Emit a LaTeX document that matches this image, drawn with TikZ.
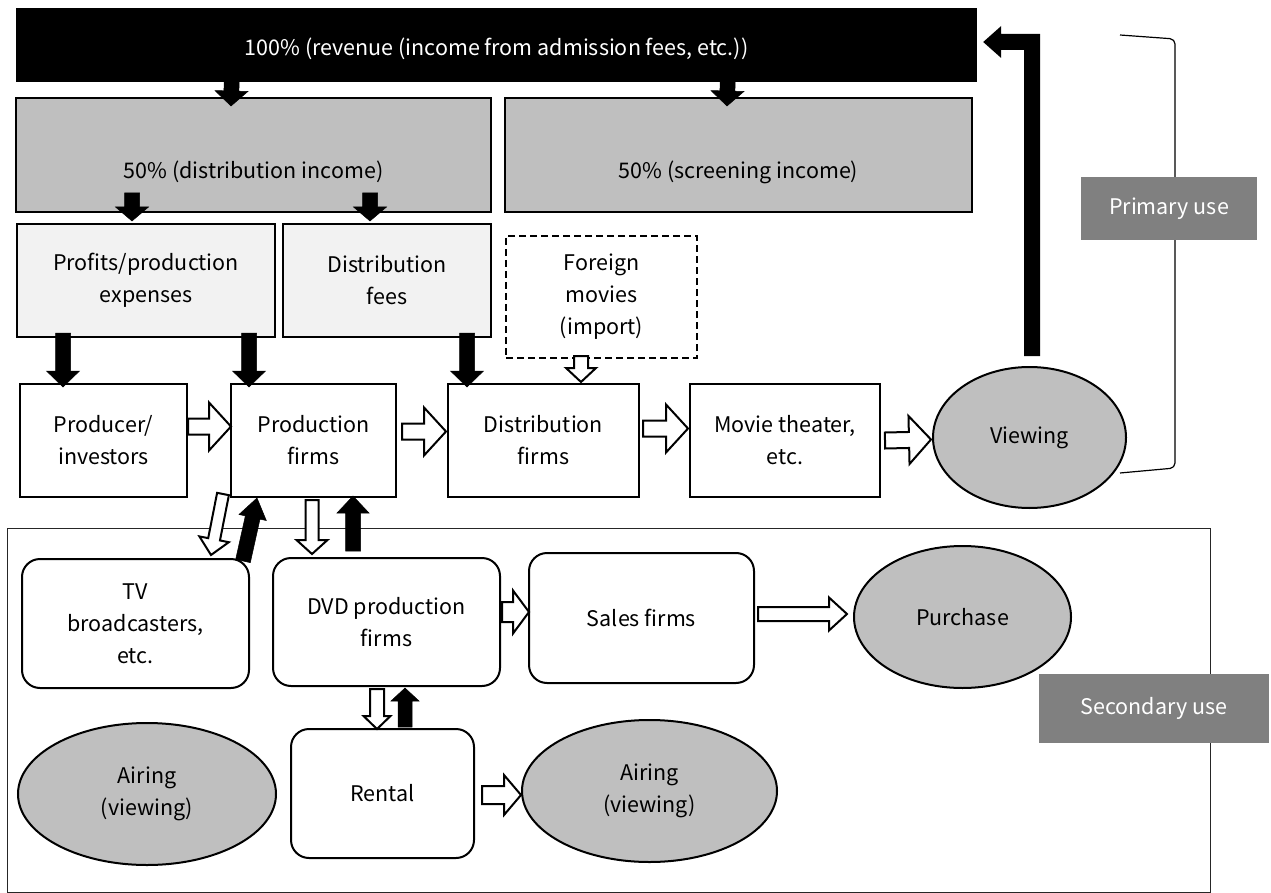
\documentclass[tikz,border=0pt]{standalone}
\usepackage{fontspec}
\setmainfont{Noto Sans CJK JP}
\usetikzlibrary{calc,shapes.geometric}

\definecolor{midgray}{HTML}{BFBFBF}
\definecolor{palegray}{HTML}{F2F2F2}
\definecolor{taggray}{HTML}{808080}

\newcommand\labelfont{\fontsize{21.5}{32}\selectfont}

% block arrow: style, start, tip, half stem width, half head width, head length
\newcommand\blockarrow[6]{%
  \coordinate (ba-s) at #2;
  \coordinate (ba-e) at #3;
  \coordinate (ba-h) at ($(ba-e)!#6!(ba-s)$);
  \filldraw[#1] ($(ba-s)!#4!90:(ba-e)$) -- ($(ba-h)!#4!90:(ba-e)$)
    -- ($(ba-h)!#5!90:(ba-e)$) -- (ba-e) -- ($(ba-h)!#5!-90:(ba-e)$)
    -- ($(ba-h)!#4!-90:(ba-e)$) -- ($(ba-s)!#4!-90:(ba-e)$) -- cycle;
}

\tikzset{
  base/.style={inner sep=0pt, align=center, font=\labelfont},
  box/.style={base, rectangle, draw=black, line width=2pt, fill=white},
  incomebox/.style={box, fill=midgray},
  sharebox/.style={box, fill=palegray},
  importbox/.style={box, dashed, dash pattern=on 7pt off 4pt},
  roundbox/.style={box, rounded corners=18pt},
  usebox/.style={base, ellipse, draw=black, line width=2pt, fill=midgray},
  tagbox/.style={base, rectangle, fill=taggray, text=white},
  solidarrow/.style={fill=black, draw=black, line width=0.5pt, line join=miter},
  hollowarrow/.style={fill=white, draw=black, line width=2pt, line join=miter},
}

\begin{document}
\begin{tikzpicture}[x=1pt, y=-1pt]
\useasboundingbox (0,0) rectangle (1271,893);

% secondary-use frame
\draw[line width=1pt, draw=black!85] (7,528) rectangle (1210,892);

% bracket marking the primary use
\coordinate (br-a) at (1120,35);
\coordinate (br-b) at (1175,39);
\coordinate (br-c) at (1175,468);
\coordinate (br-d) at (1120,473);
\draw[line width=1.2pt, rounded corners=5pt] (br-a) -- (br-b) -- (br-c) -- (br-d);

% revenue and its split
\node[base, rectangle, fill=black, text=white, minimum width=961pt, minimum height=74pt,
      text height=22pt, text depth=0pt] (rev) at (496.5,45)
      {100\% (revenue (income from admission fees, etc.))};
\node[incomebox, minimum width=475pt, minimum height=114pt, text height=48pt, text depth=0pt]
      (dinc) at (253.5,155) {50\% (distribution income)};
\node[incomebox, minimum width=467pt, minimum height=114pt, text height=48pt, text depth=0pt]
      (sinc) at (738.5,155) {50\% (screening income)};

\node[sharebox, minimum width=258pt, minimum height=113pt] (prof) at (146,280.5)
      {Profits/production\\expenses};
\node[sharebox, minimum width=208pt, minimum height=113pt] (dfee) at (387,280.5)
      {Distribution\\fees};
\node[importbox, minimum width=191pt, minimum height=122pt] (forn) at (601.5,297)
      {Foreign\\movies\\(import)};

% primary chain
\node[box, minimum width=167pt, minimum height=113pt] (prod) at (103.5,440.5)
      {Producer/\\investors};
\node[box, minimum width=165pt, minimum height=113pt] (pfirm) at (313.5,440.5)
      {Production\\firms};
\node[box, minimum width=191pt, minimum height=113pt] (dfirm) at (543.5,440.5)
      {Distribution\\firms};
\node[box, minimum width=190pt, minimum height=113pt] (theat) at (785,440.5)
      {Movie theater,\\etc.};
\node[usebox, minimum width=193pt, minimum height=141pt] (view) at (1029.5,437.5) {Viewing};

\node[tagbox, minimum width=176pt, minimum height=63pt] (primary) at (1169,208.5) {Primary use};

% secondary chain
\node[roundbox, minimum width=227pt, minimum height=129pt] (tv) at (135.5,623.5)
      {TV\\broadcasters,\\etc.};
\node[roundbox, minimum width=227pt, minimum height=128pt] (dvd) at (386.5,622)
      {DVD production\\firms};
\node[roundbox, minimum width=225pt, minimum height=130pt] (sales) at (641.5,618)
      {Sales firms};
\node[usebox, minimum width=217pt, minimum height=142pt] (purch) at (962.5,617) {Purchase};
\node[usebox, minimum width=258pt, minimum height=142pt] (air1) at (147,794)
      {Airing\\(viewing)};
\node[roundbox, minimum width=183pt, minimum height=129pt] (rent) at (382.5,793.5) {Rental};
\node[usebox, minimum width=255pt, minimum height=142pt] (air2) at (649.5,791)
      {Airing\\(viewing)};

\node[tagbox, minimum width=230pt, minimum height=69pt] (second) at (1154,708.5) {Secondary use};

% money flows down
\blockarrow{solidarrow}{($(rev.south west)+(216,-5)$)}{($(dinc.north west)+(216,9)$)}{7.5pt}{16.5pt}{15pt}
\blockarrow{solidarrow}{($(rev.south west)+(712,-5)$)}{($(sinc.north west)+(223,9)$)}{7.5pt}{16.5pt}{15pt}
\blockarrow{solidarrow}{($(dinc.south west)+(117,-20)$)}{($(prof.north west)+(116,-2)$)}{7.5pt}{16.5pt}{14pt}
\blockarrow{solidarrow}{($(dinc.south west)+(355,-20)$)}{($(dfee.north west)+(88,-2)$)}{7.5pt}{16.5pt}{14pt}
\blockarrow{solidarrow}{($(prof.south west)+(47,-5)$)}{($(prod.north west)+(44,4)$)}{7.5pt}{16.5pt}{16pt}
\blockarrow{solidarrow}{($(prof.south west)+(233,-5)$)}{($(pfirm.north west)+(19,4)$)}{7.5pt}{16.5pt}{16pt}
\blockarrow{solidarrow}{($(dfee.south west)+(185,-5)$)}{($(dfirm.north west)+(20,4)$)}{7.5pt}{16.5pt}{16pt}

% films move right
\blockarrow{hollowarrow}{($(forn.south west)+(76,-3)$)}{($(dfirm.north west)+(134,-1)$)}{7pt}{15pt}{14pt}
\blockarrow{hollowarrow}{($(prod.east)+(0,-14)$)}{($(pfirm.west)+(1,-14)$)}{8pt}{24pt}{22pt}
\blockarrow{hollowarrow}{($(pfirm.east)+(5,-9)$)}{($(dfirm.west)+(-1,-9)$)}{8pt}{24pt}{22pt}
\blockarrow{hollowarrow}{($(dfirm.east)+(3,-12)$)}{($(theat.west)+(-1,-12)$)}{8pt}{24pt}{22pt}
\blockarrow{hollowarrow}{($(theat.east)+(4,0)$)}{($(view.west)+(-1,2)$)}{8pt}{24pt}{22pt}

% admission revenue returns to the top
\fill[black] let \p1=($(view.north)+(2.5,-10)$), \p2=($(rev.east)+(6,-3)$) in
  (\x1+8pt,\y1) -- (\x1+8pt,\y2+8pt) -- (\x2+18pt,\y2+8pt) -- (\x2+18pt,\y2+16pt)
  -- (\x2,\y2) -- (\x2+18pt,\y2-16pt) -- (\x2+18pt,\y2-8pt) -- (\x1-8pt,\y2-8pt)
  -- (\x1-8pt,\y1) -- cycle;

% secondary flows
\blockarrow{hollowarrow}{($(pfirm.south west)+(-7,-4)$)}{($(tv.north east)+(-39,-3)$)}{6pt}{15pt}{16pt}
\blockarrow{solidarrow}{($(tv.north east)+(-7,3)$)}{($(pfirm.south west)+(27,0)$)}{7.5pt}{14pt}{20pt}
\blockarrow{hollowarrow}{($(pfirm.south west)+(82,2)$)}{($(dvd.north west)+(40,-3)$)}{6.5pt}{15.5pt}{14pt}
\blockarrow{solidarrow}{($(dvd.north west)+(81,-6)$)}{($(pfirm.south west)+(123,-2)$)}{7.5pt}{16pt}{17pt}

\blockarrow{hollowarrow}{($(dvd.east)+(1,-10)$)}{($(sales.west)+(1,-6)$)}{10pt}{21.5pt}{16pt}
\blockarrow{hollowarrow}{($(sales.east)+(3,-4)$)}{($(purch.west)+(-6,-3)$)}{7pt}{16.5pt}{18pt}
\blockarrow{hollowarrow}{($(dvd.south west)+(105,2)$)}{($(rent.north west)+(87,1)$)}{7pt}{13.5pt}{13pt}
\blockarrow{solidarrow}{($(rent.north west)+(115,-1)$)}{($(dvd.south west)+(133,1)$)}{7pt}{14pt}{13pt}
\blockarrow{hollowarrow}{($(rent.east)+(7,1.5)$)}{($(air2.west)+(0,4)$)}{9pt}{20pt}{17pt}

\end{tikzpicture}
\end{document}
